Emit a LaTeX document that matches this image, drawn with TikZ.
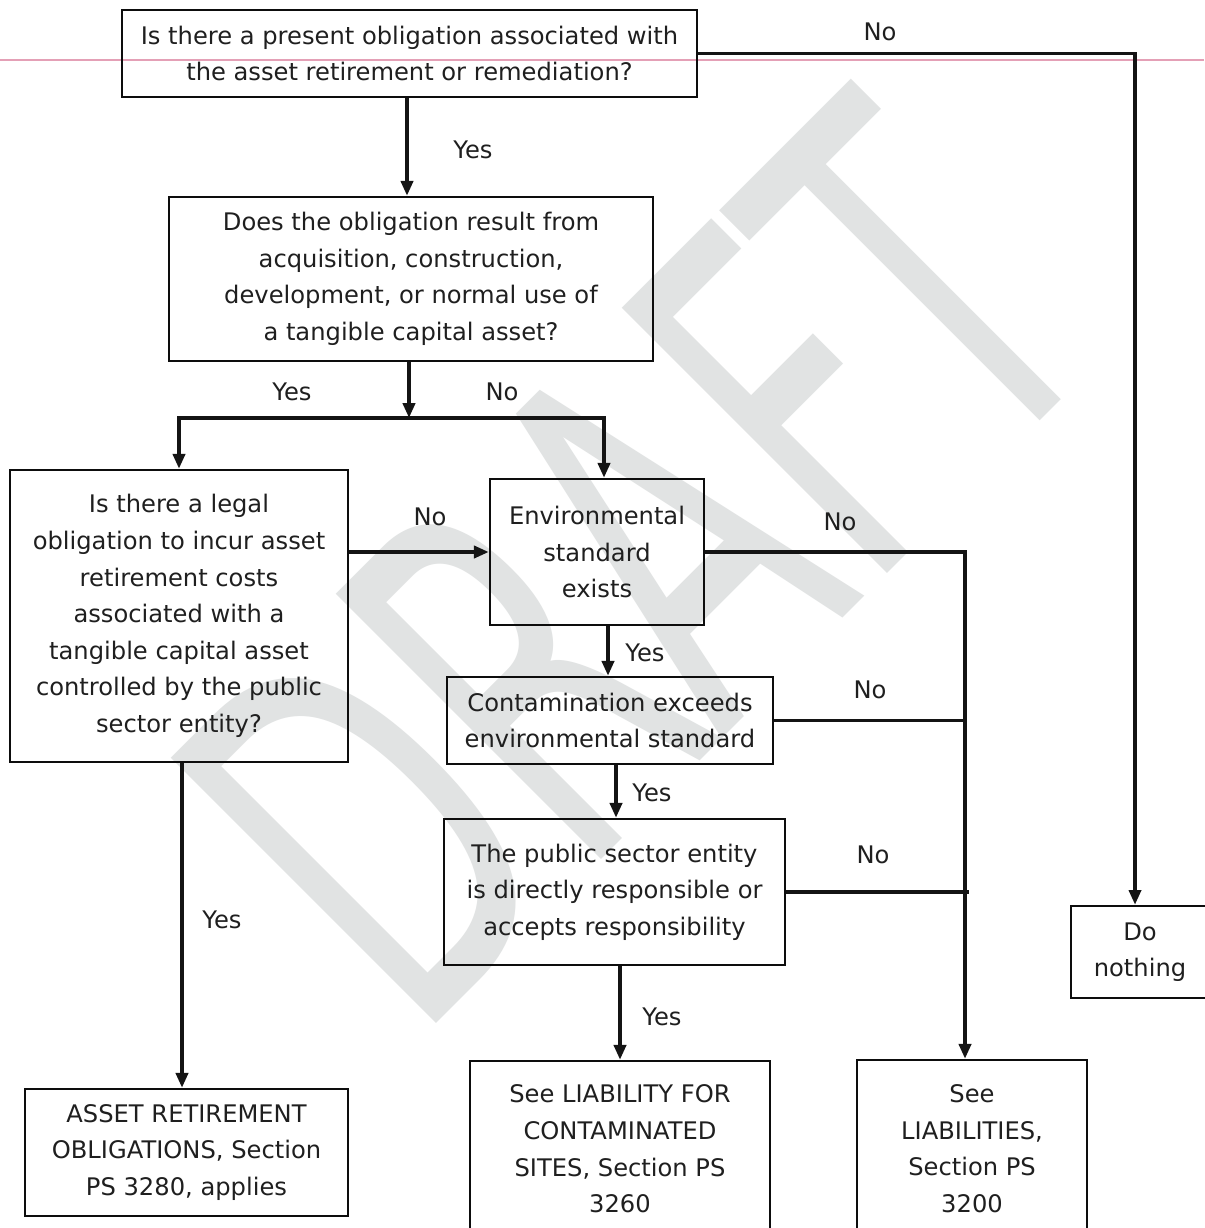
\documentclass[tikz,border=0pt]{standalone}
\usepackage{fontspec}
\setmainfont{DejaVu Sans}
\usetikzlibrary{arrows.meta,calc}
\newcommand{\flowfont}{\fontsize{17.2}{26}\selectfont}
\newcommand{\wmfont}{\fontsize{366}{366}\selectfont}
\definecolor{pinkrule}{RGB}{228,160,182}
\definecolor{wmgray}{RGB}{225,227,227}
\begin{document}
\begin{tikzpicture}[x=0.025cm,y=-0.025cm,
  box/.style={draw=black!95, line width=1.7pt, inner sep=0pt, align=center, font=\flowfont, text=black!88},
  conn/.style={draw=black!92, line width=2.6pt},
  arr/.style={conn, -{Triangle[length=0.37cm,width=0.3cm]}},
  lbl/.style={inner sep=0pt, font=\flowfont, text=black!88},
  wm/.style={inner sep=0pt, text=wmgray, font=\wmfont}]
\useasboundingbox (0,0) rectangle (1204,1228);
\fill[white] (0,0) rectangle (1204,1228);
% watermark
\node[wm, rotate=45] (wmark) at (633,562) {\scalebox{0.587}[1]{DRAFT}};
% scan rule
\draw[pinkrule, line width=0.8pt] (0,60) -- (1204,60);
% boxes
\node[box, minimum width=14.375cm, minimum height=2.175cm] (q1) at (409.5,53.5)
  {Is there a present obligation associated with\\the asset retirement or remediation?};
\node[box, minimum width=12.1cm, minimum height=4.1cm] (q2) at (411,279)
  {Does the obligation result from\\acquisition, construction,\\development, or normal use of\\a tangible capital asset?};
\node[box, minimum width=8.45cm, minimum height=7.3cm] (q3) at (179,616)
  {Is there a legal\\obligation to incur asset\\retirement costs\\associated with a\\tangible capital asset\\controlled by the public\\sector entity?};
\node[box, minimum width=5.35cm, minimum height=3.65cm] (env) at (597,552)
  {Environmental\\standard\\exists};
\node[box, minimum width=8.15cm, minimum height=2.175cm] (cont) at (610,720.5)
  {Contamination exceeds\\environmental standard};
\node[box, minimum width=8.525cm, minimum height=3.65cm] (pub) at (614.5,892)
  {The public sector entity\\is directly responsible or\\accepts responsibility};
\node[box, minimum width=3.45cm, minimum height=2.3cm] (nothing) at (1140,952)
  {Do\\nothing};
\node[box, minimum width=8.075cm, minimum height=3.175cm] (aro) at (186.5,1152.5)
  {ASSET RETIREMENT\\OBLIGATIONS, Section\\PS 3280, applies};
\node[box, minimum width=7.5cm, minimum height=4.4cm] (lcs) at (620,1149)
  {See LIABILITY FOR\\CONTAMINATED\\SITES, Section PS\\3260};
\node[box, minimum width=5.75cm, minimum height=4.425cm] (liab) at (972,1148.5)
  {See\\LIABILITIES,\\Section PS\\3200};
% guides
\coordinate (g407) at (407,0);
\coordinate (g608) at (608,0);
\coordinate (g616) at (616,0);
\coordinate (g620) at (620,0);
\coordinate (g182) at (182,0);
\coordinate (g1135) at (1135,0);
\coordinate (g965) at (965,0);
\coordinate (j1) at (409,418);
% connectors
\draw[arr] (q1.south -| g407) -- (q2.north -| g407);
\draw[arr] (q1.east) -| (nothing.north -| g1135);
\draw[arr] (q2.south -| j1) -- (j1);
\draw[arr] (j1) -| (q3.north);
\draw[arr] (j1) -| ($(env.north)+(7,0)$);
\draw[arr] (q3.east |- env.west) -- (env.west);
\draw[arr] (env.east) -| (liab.north -| g965);
\draw[conn] (cont.east) -- (cont.east -| g965);
\draw[conn] (pub.east) -- ($(pub.east -| g965)+(4,0)$);
\draw[arr] (env.south -| g608) -- (cont.north -| g608);
\draw[arr] (cont.south -| g616) -- (pub.north -| g616);
\draw[arr] (pub.south -| g620) -- (lcs.north -| g620);
\draw[arr] (q3.south -| g182) -- (aro.north -| g182);
% labels
\node[lbl] (l1) at (473,150) {Yes};
\node[lbl] (l2) at (880,32) {No};
\node[lbl] (l3) at (292,392) {Yes};
\node[lbl] (l4) at (502,392) {No};
\node[lbl] (l5) at (430,517) {No};
\node[lbl] (l6) at (840,522) {No};
\node[lbl] (l7) at (645,653) {Yes};
\node[lbl] (l8) at (870,690) {No};
\node[lbl] (l9) at (652,793) {Yes};
\node[lbl] (l10) at (873,855) {No};
\node[lbl] (l11) at (662,1017) {Yes};
\node[lbl] (l12) at (222,920) {Yes};
\end{tikzpicture}
\end{document}
